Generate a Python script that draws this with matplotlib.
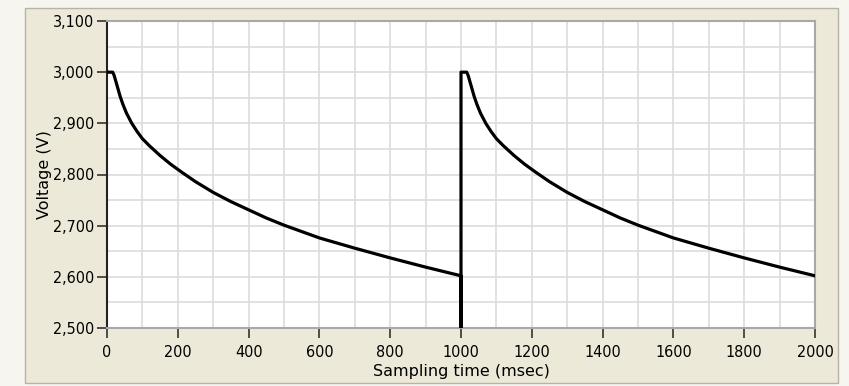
import matplotlib.pyplot as plt
from matplotlib.patches import Rectangle
from matplotlib.ticker import FuncFormatter, MultipleLocator

# Discharge curve (one 1000 ms cycle, repeated)
cycle_t = [0, 16, 20, 25, 30, 37, 45, 55, 70, 85, 100, 120, 150, 180, 210, 250,
           300, 350, 400, 450, 500, 600, 700, 800, 900, 1000]
cycle_v = [3000, 3000, 2994, 2982, 2970, 2953, 2937, 2920, 2900, 2884, 2870, 2856,
           2837, 2820, 2805, 2786, 2765, 2747, 2731, 2715, 2701, 2676, 2656, 2637,
           2619, 2602]
cycle_start = [0, 1000]
x_ticks = [0, 200, 400, 600, 800, 1000, 1200, 1400, 1600, 1800, 2000]
y_ticks = [2500, 2600, 2700, 2800, 2900, 3000, 3100]

W, H = 849, 386
fig = plt.figure(figsize=(W / 100, H / 100), dpi=100)
fig.patch.set_facecolor("#F6F5F0")

# window panel behind the chart
panel = Rectangle((25 / W, 1 - 383 / H), (838 - 25) / W, (383 - 8) / H,
                  transform=fig.transFigure, facecolor="#ECE9D8",
                  edgecolor="#B8B4A4", linewidth=1.0, zorder=-5)
fig.patches.append(panel)

ax = fig.add_axes([107 / W, 1 - 328 / H, (815 - 107) / W, (328 - 21) / H])
ax.set_zorder(2)
ax.set_facecolor("white")

# join the two cycles, with the reset drop at t=1000
xs, ys = [], []
for start in cycle_start:
    if start > 0:
        xs += [start, start]
        ys += [y_ticks[0], cycle_v[0]]
    xs += [start + t for t in cycle_t]
    ys += cycle_v
ax.plot(xs, ys, color="black", linewidth=2.3, solid_joinstyle="round", zorder=3)

ax.set_xlim(x_ticks[0], x_ticks[-1])
ax.set_ylim(y_ticks[0], y_ticks[-1])
ax.set_xticks(x_ticks)
ax.set_yticks(y_ticks)
ax.xaxis.set_minor_locator(MultipleLocator(100))
ax.yaxis.set_minor_locator(MultipleLocator(50))
ax.yaxis.set_major_formatter(FuncFormatter(lambda v, p: f"{int(v):,}"))

ax.grid(True, which="both", color="#DCDCDC", linewidth=1.2)
ax.set_axisbelow(True)
ax.tick_params(which="minor", length=0)
ax.tick_params(which="major", direction="out", length=7, width=1.2, color="#333333",
               labelsize=11.5)
ax.tick_params(axis="x", pad=5)
ax.tick_params(axis="y", pad=2)

for side in ["top", "right", "bottom"]:
    ax.spines[side].set_color("#A8A8A8")
    ax.spines[side].set_linewidth(1.5)
ax.spines["left"].set_color("#222222")
ax.spines["left"].set_linewidth(1.5)

for lbl in ax.get_xticklabels() + ax.get_yticklabels():
    lbl.set_fontstretch("condensed")
ax.set_xlabel("Sampling time (msec)", fontsize=11.5, labelpad=3)
ax.set_ylabel("Voltage (V)", fontsize=11.5, labelpad=1)

fig.savefig("out.png", dpi=100, facecolor=fig.get_facecolor())
